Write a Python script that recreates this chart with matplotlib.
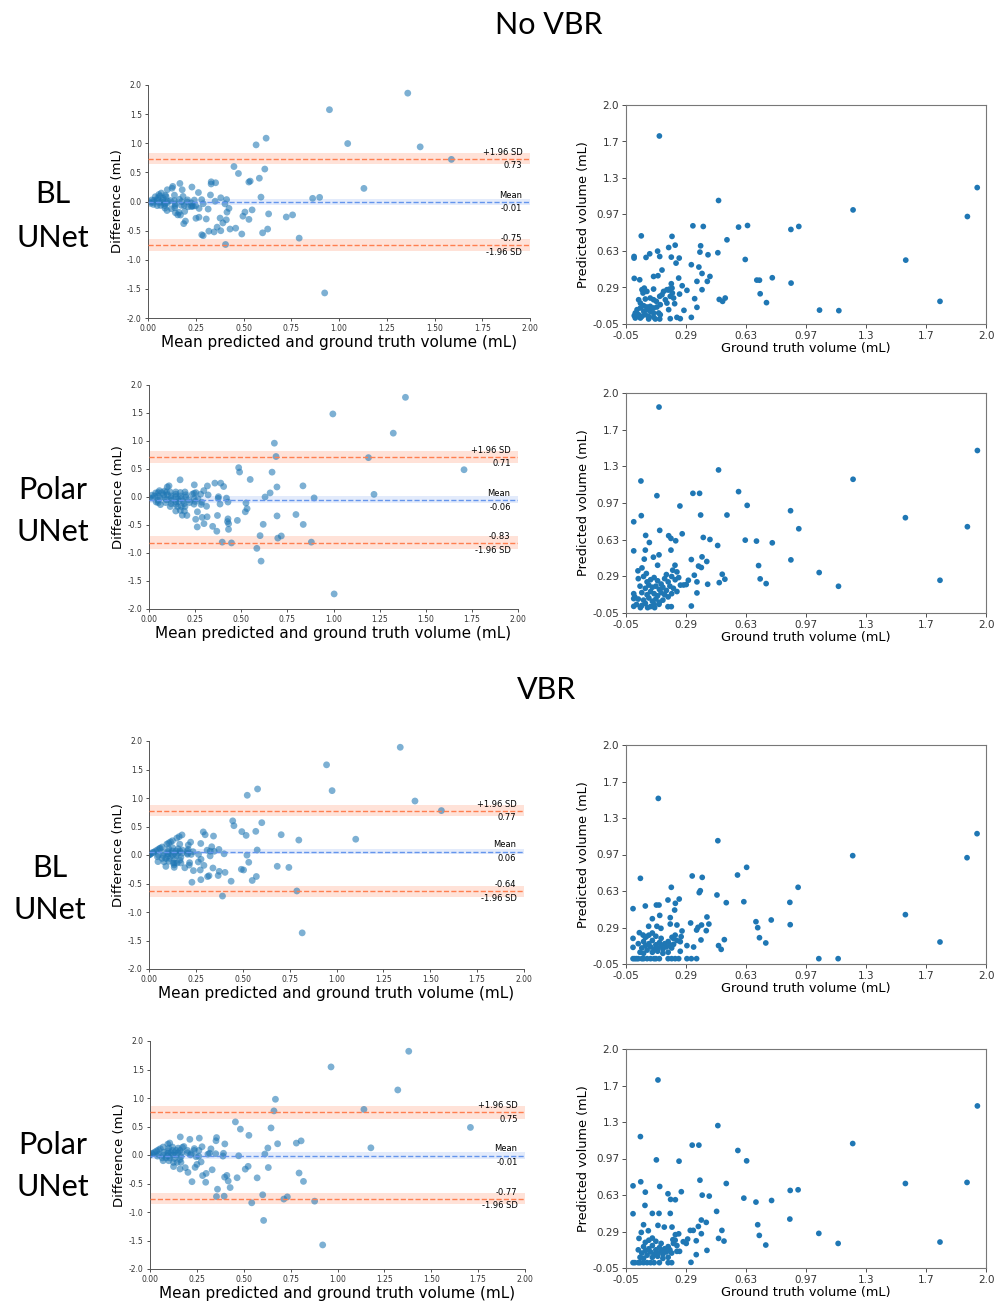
import matplotlib
matplotlib.use('Agg')
import matplotlib.pyplot as plt
import matplotlib.transforms as transforms
import numpy as np

# (ground truth, predicted) volume pairs in mL for each panel
novbr_bl = [
    (0.14, 1.71), (0.477, 1.106), (1.243, 1.018), (1.894, 0.956), (1.95, 1.227), (1.543, 0.548),
    (1.738, 0.162), (1.052, 0.08), (1.162, 0.075), (0.889, 0.835), (0.934, 0.863), (0.89, 0.333),
    (0.783, 0.383), (0.695, 0.361), (0.71, 0.36), (0.714, 0.233), (0.75, 0.15), (0.629, 0.554),
    (0.591, 0.857), (0.642, 0.872), (0.525, 0.738), (0.473, 0.617), (0.481, 0.18), (0.50, 0.162),
    (0.515, 0.193), (0.417, 0.598), (0.428, 0.395), (0.413, 0.349), (0.383, 0.423), (0.383, 0.271),
    (0.375, 0.682), (0.371, 0.623), (0.365, 0.483), (0.354, 0.349), (0.354, 0.106), (0.331, 0.869),
    (0.39, 0.863), (0.322, 0.505), (0.341, 0.187), (0.322, 0.012), (0.297, 0.265), (0.28, 0.078),
    (0.27, 0.308), (0.253, 0.567), (0.255, 0.23), (0.25, 0.38), (0.235, 0.52), (0.23, 0.688),
    (0.212, 0.77), (0.193, 0.666), (0.208, 0.576), (0.208, 0.327), (0.193, 0.268), (0.214, 0.24),
    (0.227, 0.14), (0.193, 0.084), (0.202, 0.0), (0.24, 0.012), (0.259, 0.0), (0.155, 0.455),
    (0.132, 0.402), (0.107, 0.395), (0.13, 0.632), (0.142, 0.582), (0.085, 0.607), (0.064, 0.573),
    (0.037, 0.775), (0.028, 0.364), (-0.003, 0.377), (-0.004, 0.582), (-0.004, 0.567), (2.29, 0.43),
    (0.041, 0.271), (0.054, 0.286), (0.047, 0.24), (0.069, 0.255), (0.107, 0.277), (0.022, 0.177),
    (0.032, 0.146), (0.06, 0.184), (0.088, 0.193), (0.107, 0.177), (0.123, 0.162), (0.142, 0.209),
    (0.155, 0.224), (0.164, 0.255), (0.183, 0.271), (0.198, 0.277), (0.212, 0.286), (0.202, 0.209),
    (0.221, 0.193), (0.174, 0.177), (0.183, 0.146), (0.145, 0.131), (0.126, 0.109), (0.107, 0.1),
    (0.088, 0.115), (0.069, 0.109), (0.051, 0.121), (0.032, 0.1), (0.013, 0.084), (0.003, 0.053),
    (-0.003, 0.028), (0.022, 0.037), (0.041, 0.022), (0.06, 0.037), (0.079, 0.022), (0.107, 0.015),
    (0.136, 0.053), (0.145, 0.037), (0.107, 0.053), (0.051, 0.068), (0.069, 0.084), (0.088, 0.068),
    (0.003, 0.006), (0.032, 0.006), (0.079, -0.003), (0.117, -0.003), (0.142, -0.003),
]
novbr_polar = [
    (0.138, 1.869), (0.477, 1.283), (1.243, 1.196), (1.951, 1.464), (1.541, 0.838), (1.894, 0.754),
    (1.738, 0.255), (1.16, 0.199), (1.05, 0.327), (0.887, 0.903), (0.934, 0.735), (0.889, 0.445),
    (0.783, 0.604), (0.693, 0.62), (0.705, 0.392), (0.714, 0.268), (0.748, 0.224), (0.629, 0.629),
    (0.591, 1.081), (0.64, 0.953), (0.525, 0.863), (0.472, 0.579), (0.498, 0.311), (0.513, 0.265),
    (0.481, 0.233), (0.428, 0.635), (0.375, 0.863), (0.331, 1.065), (0.369, 1.065), (0.39, 0.654),
    (0.41, 0.43), (0.415, 0.218), (0.383, 0.473), (0.379, 0.374), (0.363, 0.387), (0.354, 0.24),
    (0.354, 0.137), (0.339, 0.302), (0.322, 0.448), (0.322, 0.015), (0.305, 0.255), (0.293, 0.215),
    (0.278, 0.211), (0.257, 0.947), (0.27, 0.688), (0.233, 0.623), (0.206, 0.645), (0.193, 0.67),
    (0.206, 0.536), (0.142, 0.72), (0.126, 1.043), (0.138, 0.492), (0.13, 0.395), (0.106, 0.47),
    (0.035, 1.18), (0.037, 0.857), (-0.006, 0.80), (-0.006, 0.529), (0.062, 0.673), (0.083, 0.607),
    (0.06, 0.536), (0.054, 0.452), (0.041, 0.37), (0.018, 0.343), (0.066, 0.318), (0.229, 0.395),
    (0.216, 0.349), (0.24, 0.333), (0.18, 0.308), (0.189, 0.009), (0.208, 0.009), (0.138, 0.031),
    (0.113, 0.0), (0.073, 0.0), (0.032, 0.0), (-0.006, 0.012), (-0.006, 0.084), (-0.006, 0.13),
    (2.28, 0.50),
    (0.02, 0.27), (0.05, 0.29), (0.07, 0.24), (0.09, 0.26), (0.11, 0.28), (0.13, 0.25), (0.15, 0.22),
    (0.17, 0.27), (0.19, 0.24), (0.21, 0.29), (0.23, 0.26), (0.25, 0.28), (0.03, 0.2), (0.06, 0.18),
    (0.08, 0.21), (0.1, 0.19), (0.12, 0.2), (0.14, 0.17), (0.16, 0.19), (0.18, 0.16), (0.2, 0.2),
    (0.22, 0.18), (0.24, 0.15), (0.26, 0.21), (0.04, 0.14), (0.07, 0.12), (0.09, 0.15), (0.11, 0.13),
    (0.13, 0.11), (0.15, 0.14), (0.17, 0.12), (0.19, 0.1), (0.21, 0.13), (0.0, 0.1), (0.02, 0.08),
    (0.05, 0.07), (0.08, 0.09), (0.1, 0.06), (0.12, 0.08), (0.14, 0.05), (0.16, 0.07), (0.01, 0.03),
    (0.04, 0.02), (0.06, 0.04), (0.09, 0.01), (0.11, 0.03),
]
vbr_bl = [
    (0.134, 1.50), (0.473, 1.104), (1.241, 0.964), (1.892, 0.945), (1.949, 1.17), (1.541, 0.412),
    (1.738, 0.156), (1.048, 0.0), (1.158, 0.0), (0.93, 0.668), (0.883, 0.527), (0.885, 0.318),
    (0.777, 0.362), (0.69, 0.346), (0.70, 0.29), (0.71, 0.196), (0.746, 0.147), (0.585, 0.783),
    (0.637, 0.855), (0.621, 0.533), (0.521, 0.524), (0.468, 0.596), (0.51, 0.178), (0.492, 0.087),
    (0.477, 0.122), (0.422, 0.324), (0.407, 0.262), (0.411, 0.39), (0.384, 0.761), (0.327, 0.774),
    (0.367, 0.618), (0.373, 0.636), (0.38, 0.315), (0.36, 0.293), (0.352, 0.268), (0.377, 0.175),
    (0.335, 0.109), (0.318, 0.334), (0.297, 0.122), (0.322, 0.0), (0.352, 0.0), (0.297, 0.0),
    (0.269, 0.259), (0.264, 0.206), (0.253, 0.558), (0.24, 0.315), (0.259, 0.159), (0.259, 0.069),
    (0.231, 0.518), (0.227, 0.455), (0.208, 0.668), (0.202, 0.384), (0.202, 0.324), (0.189, 0.549),
    (0.212, 0.2), (0.221, 0.134), (0.142, 0.405), (0.138, 0.502), (0.123, 0.502), (0.10, 0.374),
    (0.079, 0.303), (0.126, 0.303), (0.149, 0.284), (0.032, 0.752), (0.06, 0.493), (-0.01, 0.468),
    (-0.01, 0.19), (-0.01, 0.106), (0.026, 0.243), (0.047, 0.221), (0.066, 0.206), (2.285, 0.395),
    (-0.01, 0.0), (0.0, 0.0), (0.01, 0.0), (0.02, 0.0), (0.04, 0.0), (0.05, 0.0), (0.07, 0.0),
    (0.09, 0.0), (0.11, 0.0), (0.12, 0.0), (0.14, 0.0), (0.19, 0.0), (0.21, 0.0), (0.23, 0.0),
    (0.25, 0.0),
    (0.02, 0.14), (0.04, 0.1), (0.05, 0.16), (0.06, 0.12), (0.07, 0.08), (0.08, 0.14), (0.09, 0.11),
    (0.1, 0.17), (0.11, 0.09), (0.12, 0.13), (0.13, 0.1), (0.14, 0.15), (0.15, 0.12), (0.16, 0.09),
    (0.17, 0.14), (0.18, 0.11), (0.19, 0.16), (0.2, 0.13), (0.21, 0.1), (0.22, 0.19), (0.23, 0.22),
    (0.24, 0.17), (0.06, 0.2), (0.08, 0.22), (0.1, 0.24), (0.12, 0.21), (0.15, 0.19), (0.03, 0.06),
    (0.05, 0.05), (0.1, 0.06), (0.13, 0.07), (0.16, 0.05), (0.19, 0.06),
]
vbr_polar = [
    (0.132, 1.71), (0.473, 1.283), (1.241, 1.115), (1.951, 1.467), (1.541, 0.741), (1.892, 0.751),
    (1.738, 0.193), (1.048, 0.274), (1.158, 0.18), (0.885, 0.676), (0.93, 0.682), (0.883, 0.408),
    (0.779, 0.582), (0.69, 0.567), (0.70, 0.355), (0.709, 0.255), (0.746, 0.165), (0.621, 0.604),
    (0.587, 1.05), (0.637, 0.953), (0.521, 0.741), (0.466, 0.48), (0.496, 0.302), (0.508, 0.202),
    (0.477, 0.227), (0.424, 0.623), (0.384, 0.632), (0.371, 0.772), (0.327, 1.1), (0.365, 1.1),
    (0.252, 0.95), (0.123, 0.962), (0.032, 1.18), (0.034, 0.757), (-0.01, 0.719), (-0.01, 0.458),
    (0.142, 0.713), (0.06, 0.66), (0.058, 0.536), (0.10, 0.461), (0.138, 0.461), (0.132, 0.349),
    (0.05, 0.355), (0.077, 0.299), (0.037, 0.283), (0.024, 0.227), (0.189, 0.645), (0.204, 0.592),
    (0.231, 0.589), (0.265, 0.664), (0.202, 0.461), (0.168, 0.333), (0.212, 0.333), (0.231, 0.262),
    (0.25, 0.27), (0.217, 0.215), (0.276, 0.196), (0.379, 0.399), (0.407, 0.377), (0.362, 0.339),
    (0.316, 0.302), (0.333, 0.302), (0.379, 0.271), (0.35, 0.205), (0.301, 0.221), (0.293, 0.18),
    (0.35, 0.075), (0.411, 0.115), (0.32, 0.003), (0.24, 0.106), (0.255, 0.106), (2.29, 0.47),
    (-0.01, 0.0), (0.0, 0.0), (0.02, 0.0), (0.03, 0.0), (0.05, 0.0), (0.07, 0.0), (0.09, 0.0),
    (0.11, 0.0), (0.14, 0.0), (0.19, 0.0), (0.21, 0.0),
    (0.02, 0.12), (0.04, 0.09), (0.05, 0.15), (0.06, 0.11), (0.07, 0.07), (0.08, 0.13), (0.09, 0.1),
    (0.1, 0.16), (0.11, 0.08), (0.12, 0.12), (0.13, 0.09), (0.14, 0.14), (0.15, 0.11), (0.16, 0.08),
    (0.17, 0.13), (0.18, 0.1), (0.19, 0.15), (0.2, 0.12), (0.21, 0.09), (0.22, 0.18), (0.23, 0.21),
    (0.24, 0.16), (0.06, 0.19), (0.08, 0.21), (0.1, 0.23), (0.12, 0.2), (0.15, 0.18), (0.03, 0.05),
    (0.05, 0.04), (0.1, 0.05), (0.13, 0.06), (0.16, 0.04), (0.19, 0.05),
]

# Bland-Altman stats: mean difference, upper and lower limits of agreement
ba_stats = [(-0.01, 0.73, -0.75), (-0.06, 0.71, -0.83), (0.06, 0.77, -0.64), (-0.01, 0.75, -0.77)]
# confidence bands: mean, upper limit, lower limit
ba_bands = [
    [(-0.063, 0.05), (0.636, 0.825), (-0.854, -0.648)],
    [(-0.11, 0.01), (0.60, 0.82), (-0.92, -0.70)],
    [(0.015, 0.114), (0.68, 0.875), (-0.735, -0.54)],
    [(-0.065, 0.05), (0.64, 0.86), (-0.86, -0.66)],
]

sc_tick_labels = ['-0.05', '0.29', '0.63', '0.97', '1.3', '1.7', '2.0']

W, H = 1005, 1301
fig = plt.figure(figsize=(W / 100, H / 100), dpi=100)


def add_ax(l, t, r, b):
    return fig.add_axes([l / W, 1 - b / H, (r - l) / W, (b - t) / H])


MEAN_C = '#6495ED'
LOA_C = '#FF7F50'


def bland_altman(ax, pairs, stats, bands):
    arr = np.array(pairs)
    gt, pred = arr[:, 0], arr[:, 1]
    mean = (gt + pred) / 2
    diff = gt - pred
    md, hi, lo = stats
    ax.axhspan(*bands[0], facecolor=MEAN_C, alpha=0.18, lw=0)
    ax.axhspan(*bands[1], facecolor=LOA_C, alpha=0.22, lw=0)
    ax.axhspan(*bands[2], facecolor=LOA_C, alpha=0.22, lw=0)
    ax.scatter(mean, diff, s=24, color='#1f77b4', alpha=0.58, edgecolors='none', zorder=2)
    ax.axhline(md, color=MEAN_C, ls='--', lw=1, zorder=3)
    ax.axhline(hi, color=LOA_C, ls='--', lw=1, zorder=3)
    ax.axhline(lo, color=LOA_C, ls='--', lw=1, zorder=3)
    trans = transforms.blended_transform_factory(ax.transAxes, ax.transData)
    off = 0.04
    fs = 6
    ax.text(0.98, hi + off, '+1.96 SD', ha='right', va='bottom', transform=trans, fontsize=fs)
    ax.text(0.98, hi - off, f'{hi:.2f}', ha='right', va='top', transform=trans, fontsize=fs)
    ax.text(0.98, md + off, 'Mean', ha='right', va='bottom', transform=trans, fontsize=fs)
    ax.text(0.98, md - off, f'{md:.2f}', ha='right', va='top', transform=trans, fontsize=fs)
    ax.text(0.98, lo + off, f'{lo:.2f}', ha='right', va='bottom', transform=trans, fontsize=fs)
    ax.text(0.98, lo - off, '-1.96 SD', ha='right', va='top', transform=trans, fontsize=fs)
    ax.set_xlim(0, 2.0)
    ax.set_ylim(-2.0, 2.0)
    ax.set_xticks(np.arange(0, 2.01, 0.25))
    ax.set_xticklabels([f'{v:.2f}' for v in np.arange(0, 2.01, 0.25)])
    ax.set_yticks(np.arange(-2.0, 2.01, 0.5))
    ax.set_yticklabels([f'{v:.1f}' for v in np.arange(-2.0, 2.01, 0.5)])
    ax.tick_params(labelsize=5.5, length=2.5, width=0.6, colors='#333333', pad=2)
    for s in ['top', 'right']:
        ax.spines[s].set_visible(False)
    for s in ['left', 'bottom']:
        ax.spines[s].set_color('#555555')
        ax.spines[s].set_linewidth(0.7)
    ax.set_xlabel('Mean predicted and ground truth volume (mL)', fontsize=11, labelpad=1)
    ax.set_ylabel('Difference (mL)', fontsize=9.5, labelpad=2)


def scatter_panel(ax, pairs):
    arr = np.array(pairs)
    ax.scatter(arr[:, 0], arr[:, 1], s=17, color='#1f77b4', edgecolors='none')
    ax.set_xlim(-0.05, 2.0)
    ax.set_ylim(-0.05, 2.0)
    ticks = np.linspace(-0.05, 2.0, 7)
    ax.set_xticks(ticks)
    ax.set_xticklabels(sc_tick_labels)
    ax.set_yticks(ticks)
    ax.set_yticklabels(sc_tick_labels)
    ax.tick_params(labelsize=7.5, length=3, width=0.6, colors='#333333', pad=2)
    for s in ax.spines.values():
        s.set_color('#777777')
        s.set_linewidth(0.8)
    ax.set_xlabel('Ground truth volume (mL)', fontsize=9.3, labelpad=1)
    ax.set_ylabel('Predicted volume (mL)', fontsize=9.3, labelpad=2)


ba_boxes = [(148, 85, 530, 318), (149, 385, 518, 609), (149, 741, 524, 969), (150, 1041, 525, 1269)]
sc_boxes = [(626, 105, 986, 324), (626, 393, 986, 613), (626, 745, 986, 964), (626, 1049, 986, 1268)]
panels = [novbr_bl, novbr_polar, vbr_bl, vbr_polar]

for i in range(4):
    bland_altman(add_ax(*ba_boxes[i]), panels[i], ba_stats[i], ba_bands[i])
    scatter_panel(add_ax(*sc_boxes[i]), panels[i])

big = dict(fontsize=22, family=['Lato', 'DejaVu Sans'], ha='center', va='center')
fig.text(549 / W, 1 - 25 / H, 'No VBR', **big)
fig.text(547 / W, 1 - 690 / H, 'VBR', **big)
row_labels = [('BL', 53, 194), ('UNet', 53, 238), ('Polar', 53, 490), ('UNet', 53, 532),
              ('BL', 50, 868), ('UNet', 50, 910), ('Polar', 53, 1145), ('UNet', 53, 1187)]
for txt, x, y in row_labels:
    fig.text(x / W, 1 - y / H, txt, **big)

fig.savefig('out.png', dpi=100)
